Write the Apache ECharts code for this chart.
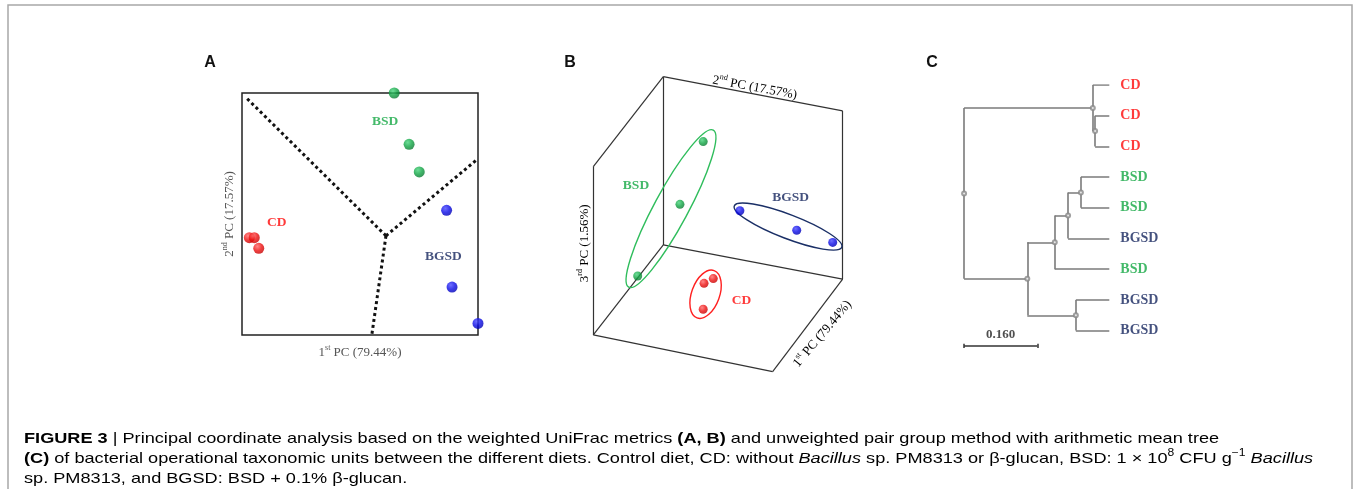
<!DOCTYPE html>
<html>
<head>
<meta charset="utf-8">
<script src="https://cdn.jsdelivr.net/npm/echarts@6/dist/echarts.min.js"></script>
<style>
html,body{margin:0;padding:0;background:#fff}
#main{width:1356px;height:489px}
</style>
</head>
<body>
<div id="main"></div>
<script>
// A: 2D PCoA, axis units 0-100
var aCD   = [[3.1,40.2],[5.2,40.2],[7.1,35.8]];
var aBSD  = [[64.5,100],[70.8,78.8],[75.1,67.4]];
var aBGSD = [[86.7,51.5],[89.0,19.8],[100,4.8]];
var aCentre = [61.0,41.0];
var aEnds = [[1.3,98.5],[99.7,72.6],[55.0,0]];
var aLabels = [['BSD',60.6,88.1],['CD',14.7,46.6],['BGSD',85.3,32.4]];

// B: 3D PCoA projected on the page, units 0-100
var bVerts = [[29.75,94.8],[93.8,84.1],[29.75,42.2],[93.8,31.5],[4.75,66.7],[4.75,14.1],[68.8,2.6]];
var bEdges = [[0,4],[4,5],[0,2],[0,1],[1,3],[2,3],[2,5],[5,6],[6,3]];
var bCD   = [[44.3,30.2],[47.6,31.7],[44.0,22.1]];
var bBSD  = [[44.0,74.5],[35.7,54.9],[20.6,32.5]];
var bBGSD = [[57.1,52.9],[77.4,46.8],[90.25,43.0]];
// ellipse major axis ends
var bEllipses = [['BSD',17.4,29.0,47.6,78.1],['BGSD',55.1,54.4,93.5,41.5],['CD',47.9,34.2,41.8,19.4]];
var bLabels = [['BSD',20.0,60.8],['BGSD',75.2,56.9],['CD',57.7,24.8]];

// C: UPGMA tree
var cLeaves = ['CD','CD','CD','BSD','BSD','BGSD','BSD','BGSD','BGSD'];
var cMerges = [[1,2,0.031],[0,9,0.036],[3,4,0.062],[11,5,0.090],[12,6,0.119],[7,8,0.073],[13,14,0.179],[10,15,0.317]];
var cScale = 0.160;

var serif = '"Liberation Serif","DejaVu Serif",serif';
var sans = '"Liberation Sans",Arial,sans-serif';
var labelCol = {CD:'#ff0a0a', BSD:'#14a844', BGSD:'#15265e'};
var ringCol = {CD:'#ff2020', BSD:'#2fbd5c', BGSD:'#1a2f66'};
var ringMinor = {CD:14, BSD:17, BGSD:12};

function ball(c0, c1, c2) {
  return new echarts.graphic.RadialGradient(0.38, 0.32, 0.7, [{offset:0,color:c0},{offset:0.55,color:c1},{offset:1,color:c2}]);
}
var ballCol = {
  CD: ball('#ff6a6a','#ee1010','#c40000'),
  BSD: ball('#48d47c','#10a443','#087a30'),
  BGSD: ball('#4a4aff','#0a0ae6','#0000b4')
};

// tree layout
var nodeH = [], nodeY = [], segs = [], inner = [];
cLeaves.forEach(function (l, i) { nodeH.push(0); nodeY.push(i); });
cMerges.forEach(function (m) {
  var a = m[0], b = m[1], h = m[2];
  segs.push({coords:[[nodeH[a],nodeY[a]],[h,nodeY[a]]]});
  segs.push({coords:[[nodeH[b],nodeY[b]],[h,nodeY[b]]]});
  segs.push({coords:[[h,nodeY[a]],[h,nodeY[b]]]});
  nodeH.push(h); nodeY.push((nodeY[a]+nodeY[b])/2);
  inner.push([h,(nodeY[a]+nodeY[b])/2]);
});
var rootH = cMerges[cMerges.length-1][2];
var barY = cLeaves.length - 0.5;

var pcRich = {
  n:{fontFamily:serif,fontSize:13,color:'#555',lineHeight:15,verticalAlign:'bottom'},
  s:{fontFamily:serif,fontSize:8,color:'#555',lineHeight:11,verticalAlign:'top'}
};
var capRich = {
  n:{fontFamily:sans,fontSize:15,color:'#3a3a3a',lineHeight:18,verticalAlign:'bottom'},
  b:{fontFamily:sans,fontSize:15,fontWeight:'bold',color:'#222',lineHeight:18,verticalAlign:'bottom'},
  i:{fontFamily:sans,fontSize:15,fontStyle:'italic',color:'#3a3a3a',lineHeight:18,verticalAlign:'bottom'},
  s:{fontFamily:sans,fontSize:10,color:'#3a3a3a',lineHeight:12,verticalAlign:'top'}
};
var capScale = 1.21;
var groupLabel = {show:true, position:'inside', formatter:'{b}', fontFamily:serif, fontWeight:'bold', fontSize:13.5};

function pts(arr, g, size, xi) {
  return {type:'scatter', xAxisIndex:xi, yAxisIndex:xi, data:arr, symbolSize:size, clip:false,
    itemStyle:{color:ballCol[g]}, z:5};
}
function labels(arr, xi) {
  return {type:'scatter', xAxisIndex:xi, yAxisIndex:xi, symbolSize:0, clip:false, z:6,
    data:arr.map(function (d) { return {name:d[0], value:[d[1],d[2]], label:{color:labelCol[d[0]]}}; }),
    label:groupLabel};
}

var hiddenAxis = function (extra) {
  return Object.assign({type:'value', axisLine:{show:false}, axisTick:{show:false}, axisLabel:{show:false}, splitLine:{show:false}}, extra);
};

var option = {
  animation:false,
  backgroundColor:'#fff',
  grid:[
    {left:242, top:93, width:236, height:242, show:true, borderColor:'#222', borderWidth:1.5, backgroundColor:'transparent'},
    {left:580, top:60, width:280, height:320},
    {left:962.7, top:85, width:146.6, height:276.3}
  ],
  xAxis:[
    hiddenAxis({gridIndex:0, min:0, max:100, name:'{n|1}{s|st}{n| PC (79.44%)}', nameLocation:'middle', nameGap:9, nameTextStyle:{rich:pcRich}}),
    hiddenAxis({gridIndex:1, min:0, max:100, show:false}),
    hiddenAxis({gridIndex:2, min:0, max:0.32, inverse:true, show:false})
  ],
  yAxis:[
    hiddenAxis({gridIndex:0, min:0, max:100, name:'{n|2}{s|nd}{n| PC (17.57%)}', nameLocation:'middle', nameGap:6, nameRotate:90, nameTextStyle:{rich:pcRich}}),
    hiddenAxis({gridIndex:1, min:0, max:100, show:false}),
    hiddenAxis({gridIndex:2, min:0, max:9, inverse:true, show:false})
  ],
  graphic:[
    {type:'rect', shape:{x:8, y:5, width:1344, height:520}, style:{fill:'none', stroke:'#a8a8a8', lineWidth:1.5}},
    {type:'text', x:210, y:63, style:{text:'A', font:'bold 16px '+sans, fill:'#111', align:'center', verticalAlign:'middle'}},
    {type:'text', x:570, y:63, style:{text:'B', font:'bold 16px '+sans, fill:'#111', align:'center', verticalAlign:'middle'}},
    {type:'text', x:932, y:63, style:{text:'C', font:'bold 16px '+sans, fill:'#111', align:'center', verticalAlign:'middle'}},
    {type:'text', x:755, y:86.7, rotation:-0.18, style:{text:'{n|2}{s|nd}{n| PC (17.57%)}', rich:pcRich, align:'center', verticalAlign:'middle'}},
    {type:'text', x:583.3, y:243.3, rotation:Math.PI/2, style:{text:'{n|3}{s|rd}{n| PC (1.56%)}', rich:pcRich, align:'center', verticalAlign:'middle'}},
    {type:'text', x:821.7, y:333.3, rotation:0.87, style:{text:'{n|1}{s|st}{n| PC (79.44%)}', rich:pcRich, align:'center', verticalAlign:'middle'}},
    {type:'text', x:24, y:437, scaleX:capScale, style:{text:'{b|FIGURE 3}{n| | Principal coordinate analysis based on the weighted UniFrac metrics }{b|(A, B)}{n| and unweighted pair group method with arithmetic mean tree}', rich:capRich, verticalAlign:'middle'}},
    {type:'text', x:24, y:457, scaleX:capScale, style:{text:'{b|(C)}{n| of bacterial operational taxonomic units between the different diets. Control diet, CD: without }{i|Bacillus}{n| sp. PM8313 or β-glucan, BSD: 1 × 10}{s|8}{n| CFU g}{s|−1}{n| }{i|Bacillus}', rich:capRich, verticalAlign:'middle'}},
    {type:'text', x:24, y:477, scaleX:capScale, style:{text:'{n|sp. PM8313, and BGSD: BSD + 0.1% β-glucan.}', rich:capRich, verticalAlign:'middle'}}
  ],
  series:[
    // A
    {type:'lines', coordinateSystem:'cartesian2d', xAxisIndex:0, yAxisIndex:0,
      data:aEnds.map(function (e) { return {coords:[aCentre, e]}; }),
      lineStyle:{color:'#111', width:3, type:[3,3], opacity:1}, z:3},
    pts(aCD,'CD',11,0), pts(aBSD,'BSD',11,0), pts(aBGSD,'BGSD',11,0),
    labels(aLabels,0),
    // B
    {type:'lines', coordinateSystem:'cartesian2d', xAxisIndex:1, yAxisIndex:1,
      data:bEdges.map(function (e) { return {coords:[bVerts[e[0]], bVerts[e[1]]]}; }),
      lineStyle:{color:'#333', width:1.2, opacity:1}, z:2},
    {type:'custom', coordinateSystem:'cartesian2d', xAxisIndex:1, yAxisIndex:1, clip:false, z:4,
      data:bEllipses.map(function (e) { return {name:e[0], value:[e[1],e[2],e[3],e[4]]}; }),
      renderItem:function (params, api) {
        var g = bEllipses[params.dataIndex][0];
        var p1 = api.coord([api.value(0), api.value(1)]);
        var p2 = api.coord([api.value(2), api.value(3)]);
        var dx = p2[0]-p1[0], dy = p2[1]-p1[1];
        return {type:'ellipse', x:(p1[0]+p2[0])/2, y:(p1[1]+p2[1])/2, rotation:-Math.atan2(dy,dx),
          shape:{cx:0, cy:0, rx:Math.sqrt(dx*dx+dy*dy)/2, ry:ringMinor[g]},
          style:{fill:'none', stroke:ringCol[g], lineWidth:1.4}};
      }},
    pts(bCD,'CD',9,1), pts(bBSD,'BSD',9,1), pts(bBGSD,'BGSD',9,1),
    labels(bLabels,1),
    // C
    {type:'lines', coordinateSystem:'cartesian2d', xAxisIndex:2, yAxisIndex:2, data:segs,
      lineStyle:{color:'#7a7a7a', width:1.6, opacity:1}, z:2},
    {type:'scatter', xAxisIndex:2, yAxisIndex:2, data:inner, symbol:'emptyCircle', symbolSize:4, clip:false,
      itemStyle:{color:'#888', borderColor:'#888', borderWidth:1}, z:3},
    {type:'scatter', xAxisIndex:2, yAxisIndex:2, symbolSize:0, clip:false,
      data:cLeaves.map(function (l, i) { return {name:l, value:[0,i], label:{color:labelCol[l]}}; }),
      label:{show:true, position:'right', distance:11, formatter:'{b}', fontFamily:serif, fontWeight:'bold', fontSize:14}},
    {type:'lines', coordinateSystem:'cartesian2d', xAxisIndex:2, yAxisIndex:2,
      data:[{coords:[[rootH,barY],[rootH-cScale,barY]]},
            {coords:[[rootH,barY-0.07],[rootH,barY+0.07]]},
            {coords:[[rootH-cScale,barY-0.07],[rootH-cScale,barY+0.07]]}],
      lineStyle:{color:'#333', width:1.5, opacity:1}},
    {type:'scatter', xAxisIndex:2, yAxisIndex:2, symbolSize:0, clip:false,
      data:[{name:cScale.toFixed(3), value:[rootH-cScale/2, barY-0.38]}],
      label:{show:true, position:'inside', formatter:'{b}', fontFamily:serif, fontWeight:'bold', fontSize:13, color:'#222'}}
  ]
};
var chart = echarts.init(document.getElementById('main'));
chart.setOption(option);
</script>
</body>
</html>
